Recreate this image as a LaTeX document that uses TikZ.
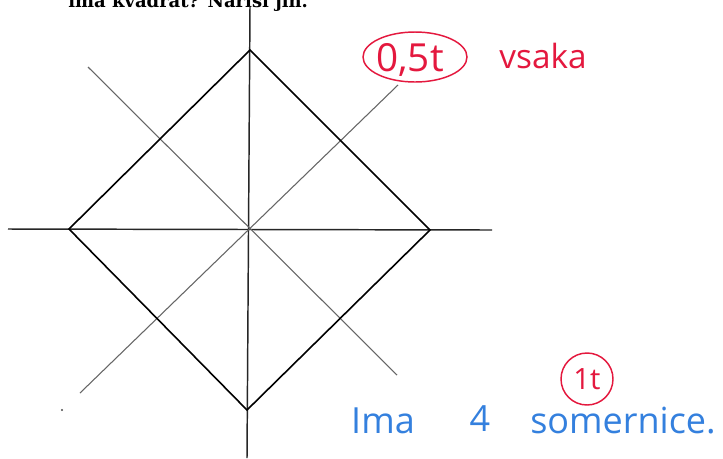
\documentclass[tikz,border=0pt]{standalone}
\usepackage{fontspec}
\setmainfont{DejaVu Serif}
\newfontfamily\handfont{Open Sans}
\usetikzlibrary{positioning}
\definecolor{penred}{RGB}{228,24,62}
\definecolor{penblue}{RGB}{52,128,222}
\tikzset{
  axis/.style={black!85, line width=1.1pt},
  edge/.style={black, line width=1.2pt},
  diag/.style={black!60, line width=0.8pt},
  redpen/.style={penred, font=\handfont, inner sep=0pt},
  bluepen/.style={penblue, font=\handfont\fontsize{27}{30}\selectfont, inner sep=0pt, anchor=base},
}
\begin{document}
\begin{tikzpicture}[x=0.75pt, y=-0.75pt]
    \useasboundingbox (0,0) rectangle (723,458);
    \clip (0,0) rectangle (723,458);
    \fill[white] (0,0) rectangle (723,458);

    % naslov (odrezan zgoraj)
    \node[anchor=base west, inner sep=0pt, font=\bfseries\fontsize{13.5}{16}\selectfont] (title) at (68,7) {ima kvadrat? Nariši jih.};

    % oglisca kvadrata
    \coordinate (T) at (250,50);
    \coordinate (L) at (69,229);
    \coordinate (R) at (430,230);
    \coordinate (B) at (247,410);

    % somernice
    \draw[axis] (250,6) -- (247,458);
    \draw[axis] (8,229) -- (492,230);
    \draw[diag] (88,67) -- (397,375);
    \draw[diag] (80,393) -- (398,85);

    % kvadrat
    \draw[edge, line join=miter] (T) -- (R) -- (B) -- (L) -- cycle;

    % pika
    \fill[black!70] (62,410) circle (1.2);

    % rdece oznake
    \node[redpen, font=\handfont\fontsize{29}{32}\selectfont] (half) at (410,60) {0,5t};
    \draw[penred, line width=1.1pt] (415,57) ellipse [x radius=52, y radius=25];
    \node[redpen, font=\handfont\fontsize{25}{28}\selectfont, anchor=base] (each) at (543,68) {vsaka};

    % modri odgovor
    \node[bluepen] (ima) at (383,433) {Ima};
    \node[bluepen] (four) at (480,431) {4};
    \node[bluepen] (sym) at (623,433) {somernice.};

    \node[redpen, font=\handfont\fontsize{22}{24}\selectfont] (point) at (587,379) {1t};
    \draw[penred, line width=1.1pt] (point) circle (26);
\end{tikzpicture}
\end{document}
